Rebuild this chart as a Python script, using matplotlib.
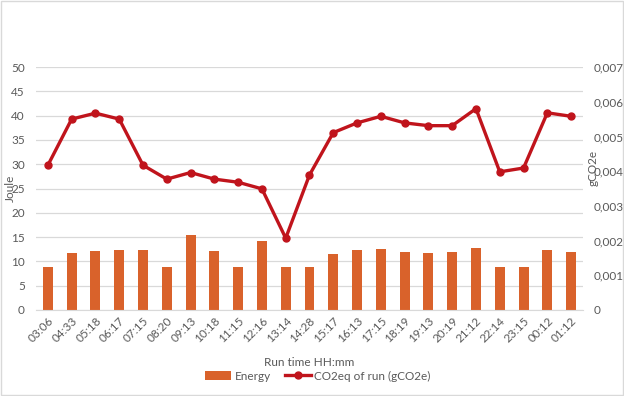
import matplotlib
matplotlib.use("Agg")
import matplotlib.pyplot as plt
from matplotlib.ticker import FuncFormatter
import numpy as np

run_times = ["03:06", "04:33", "05:18", "06:17", "07:15", "08:20", "09:13", "10:18",
             "11:15", "12:16", "13:14", "14:28", "15:17", "16:13", "17:15", "18:19",
             "19:13", "20:19", "21:12", "22:14", "23:15", "00:12", "01:12"]
energy = [8.8, 11.7, 12.1, 12.3, 12.3, 8.8, 15.4, 12.1, 8.8, 14.3, 8.8, 8.8,
          11.5, 12.3, 12.5, 11.9, 11.7, 11.9, 12.7, 8.8, 8.8, 12.3, 11.9]
co2 = [0.00417, 0.00550, 0.00567, 0.00550, 0.00417, 0.00377, 0.00396, 0.00377,
       0.00368, 0.00349, 0.00207, 0.00389, 0.00511, 0.00539, 0.00558, 0.00539,
       0.00531, 0.00531, 0.00580, 0.00398, 0.00409, 0.00568, 0.00558]

plt.rcParams['font.family'] = ['Lato', 'DejaVu Sans']
txt = '#595959'

fig = plt.figure(figsize=(6.24, 3.96), dpi=100)
ax = fig.add_axes([36/624, 1 - 310/396, (583-36)/624, (310-67)/396])
x = np.arange(len(run_times))
bars = ax.bar(x, energy, width=0.42, color='#D9622B', label='Energy', zorder=2)
ax.set_ylim(0, 50)
ax.set_xlim(-0.5, len(run_times) - 0.5)
ax.set_yticks(np.arange(0, 51, 5))
ax.grid(axis='y', color='#D9D9D9', linewidth=0.9, zorder=0)
ax.set_axisbelow(True)
for s in ['top', 'right', 'left']:
    ax.spines[s].set_visible(False)
ax.spines['bottom'].set_color('#D9D9D9')
ax.tick_params(axis='both', length=0, colors=txt, labelsize=8.5)
ax.tick_params(axis='y', pad=8)
ax.set_xticks(x)
ax.set_xticklabels(run_times, rotation=45, ha='right', rotation_mode='anchor')
ax.tick_params(axis='x', pad=4)
ax.set_xlabel('Run time HH:mm', color=txt, fontsize=8.5, labelpad=9)

ax2 = ax.twinx()
line, = ax2.plot(x, co2, color='#C0141C', linewidth=2.4, marker='o', markersize=5,
                 label='CO2eq of run (gCO2e)', zorder=3)
ax2.set_ylim(0, 0.007)
ax2.set_yticks(np.arange(0, 0.0071, 0.001))
ax2.yaxis.set_major_formatter(FuncFormatter(lambda v, p: '0' if abs(v) < 1e-9 else f"{v:.3f}".replace('.', ',')))
for s in ['top', 'right', 'left', 'bottom']:
    ax2.spines[s].set_visible(False)
ax2.tick_params(axis='y', length=0, colors=txt, labelsize=8.5, pad=8)

fig.text(10/624, 1 - 188/396, 'Joule', rotation=90, ha='center', va='center',
         color=txt, fontsize=8.5)
fig.text(593/624, 1 - 168/396, 'gCO2e', rotation=90, ha='center', va='center',
         color=txt, fontsize=8.5)

fig.legend([bars, line], ['Energy', 'CO2eq of run (gCO2e)'], loc='center',
           bbox_to_anchor=(318/624, 1 - 376/396), ncol=2, frameon=False,
           fontsize=8.5, labelcolor=txt, handlelength=2.2, columnspacing=1.2,
           handletextpad=0.3)

fig.patches.append(plt.Rectangle((0.002, 0.003), 0.996, 0.994, transform=fig.transFigure,
                                 fill=False, edgecolor='#D9D9D9', linewidth=1))
fig.savefig('out.png', dpi=100)
